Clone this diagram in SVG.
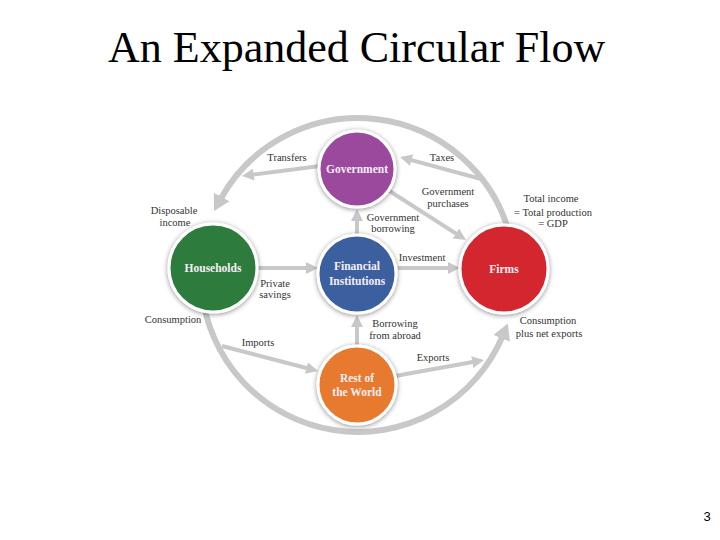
<svg xmlns="http://www.w3.org/2000/svg" width="720" height="540" viewBox="0 0 720 540">
<style>
.ring{fill:none;stroke:#c8c8c8;stroke-width:6}
.arr{fill:none;stroke:#c8c8c8;stroke-width:4}
.serif{font-family:"Liberation Serif","DejaVu Serif","Times New Roman",serif}
.lbl{font-size:10.5px;fill:#333;text-anchor:middle}
.node circle{stroke:#fff;stroke-width:3;filter:url(#sh)}
.node text{font-family:"Liberation Serif","DejaVu Serif","Times New Roman",serif;font-size:11.5px;font-weight:bold;fill:#f6eef6;text-anchor:middle}
</style>
<defs>
<filter id="sh" x="-30%" y="-30%" width="160%" height="160%">
<feDropShadow dx="0" dy="1" stdDeviation="2.5" flood-color="#000" flood-opacity="0.45"/>
</filter>
<marker id="big" markerUnits="userSpaceOnUse" markerWidth="16" markerHeight="18" refX="3" refY="9" orient="auto">
<path d="M0,0 L16,9 L0,18 z" fill="#c8c8c8"/>
</marker>
<marker id="sm" markerUnits="userSpaceOnUse" markerWidth="12" markerHeight="12" refX="2" refY="6" orient="auto">
<path d="M0,0 L12,6 L0,12 z" fill="#c8c8c8"/>
</marker>
</defs>
<rect width="720" height="540" fill="#fff"/>
<text class="serif" x="108" y="62" font-size="44" fill="#000">An Expanded Circular Flow</text>
<text x="707" y="521" font-family="Liberation Sans,Arial,sans-serif" font-size="13" fill="#000" text-anchor="middle">3</text>

<g id="connectors">
<path class="ring" d="M509.6,234.4 A157,157 0 0 0 220.3,199.6" marker-end="url(#big)"/>
<path class="ring" d="M201.6,288.7 A157,157 0 0 0 502.8,335.6" marker-end="url(#big)"/>
<path class="arr" d="M320,166 L251.9,174.7" marker-end="url(#sm)"/>
<path class="arr" d="M481,179 L409.7,159.6" marker-end="url(#sm)"/>
<path class="arr" d="M388,190 L457.6,234.6" marker-end="url(#sm)"/>
<path class="arr" d="M357,236 L357,219" marker-end="url(#sm)"/>
<path class="arr" d="M256,268 L308,268" marker-end="url(#sm)"/>
<path class="arr" d="M398,268 L450,268" marker-end="url(#sm)"/>
<path class="arr" d="M357,347 L357,325" marker-end="url(#sm)"/>
<path class="arr" d="M222,346 L308.3,368.5" marker-end="url(#sm)"/>
<path class="arr" d="M395,376 L474.2,361.8" marker-end="url(#sm)"/>
<g class="serif">
<text class="lbl" x="287" y="161">Transfers</text>
<text class="lbl" x="442" y="161">Taxes</text>
<text class="lbl" x="448" y="195">Government</text>
<text class="lbl" x="448" y="207">purchases</text>
<text class="lbl" x="393" y="221">Government</text>
<text class="lbl" x="393" y="232">borrowing</text>
<text class="lbl" x="551" y="202">Total income</text>
<text class="lbl" x="553" y="216">= Total production</text>
<text class="lbl" x="553" y="227">= GDP</text>
<text class="lbl" x="174" y="214">Disposable</text>
<text class="lbl" x="175" y="226">income</text>
<text class="lbl" x="275" y="287">Private</text>
<text class="lbl" x="275" y="298">savings</text>
<text class="lbl" x="173" y="323">Consumption</text>
<text class="lbl" x="258" y="346">Imports</text>
<text class="lbl" x="422" y="261">Investment</text>
<text class="lbl" x="395" y="327">Borrowing</text>
<text class="lbl" x="395" y="339">from abroad</text>
<text class="lbl" x="548" y="324">Consumption</text>
<text class="lbl" x="549" y="337">plus net exports</text>
<text class="lbl" x="433" y="361">Exports</text>
</g>
</g>

<g id="government" class="node">
<circle cx="357" cy="169" r="38" fill="#9b4a9d"/>
<text x="357" y="173">Government</text>
</g>
<g id="households" class="node">
<circle cx="213" cy="268" r="44" fill="#2e7b3d"/>
<text x="213" y="272">Households</text>
</g>
<g id="financial-institutions" class="node">
<circle cx="357" cy="274" r="39" fill="#3a5f9f"/>
<text x="357" y="270">Financial</text>
<text x="357" y="285">Institutions</text>
</g>
<g id="firms" class="node">
<circle cx="504" cy="269" r="44" fill="#d3252d"/>
<text x="504" y="273">Firms</text>
</g>
<g id="rest-of-the-world" class="node">
<circle cx="357" cy="385" r="39" fill="#e77a2d"/>
<text x="357" y="382">Rest of</text>
<text x="357" y="396">the World</text>
</g>
</svg>
